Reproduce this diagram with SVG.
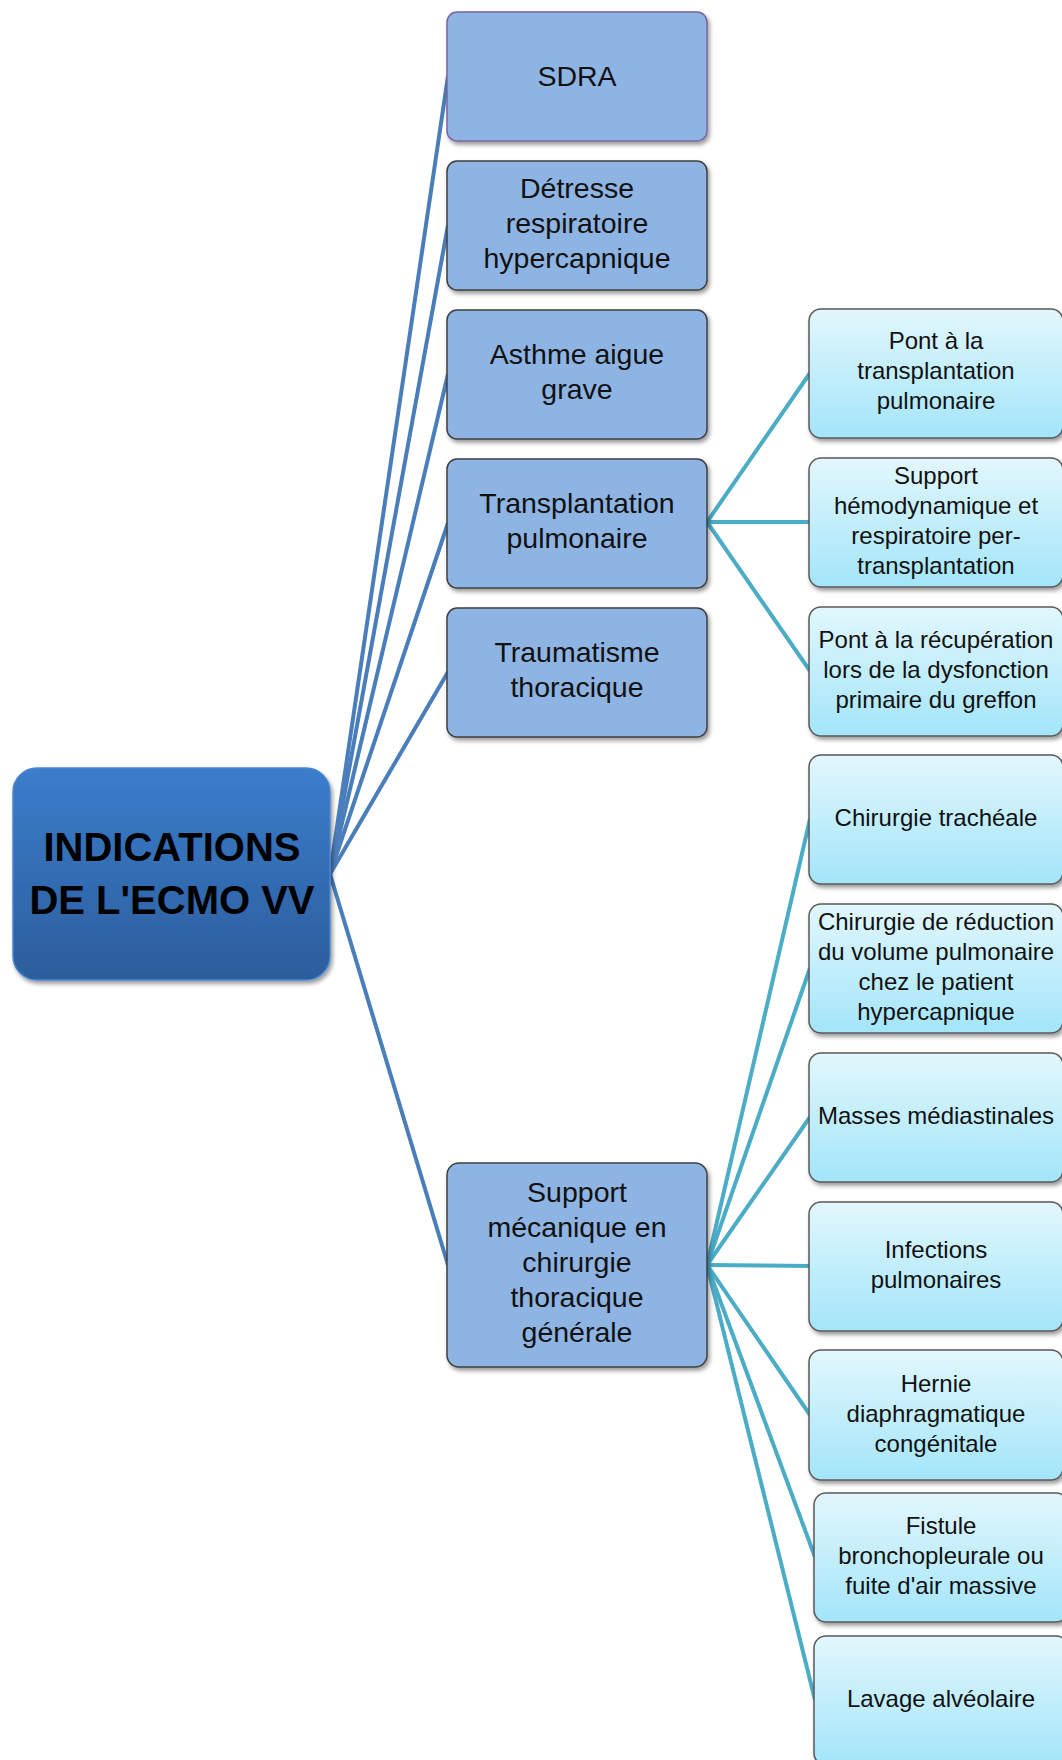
<svg xmlns="http://www.w3.org/2000/svg" width="1062" height="1760" viewBox="0 0 1062 1760">
<defs>
<style>
.l1 { fill: #8eb4e3; stroke: #3f3f3f; stroke-width: 1.5; }
.l2 { fill: url(#g2); stroke: #5a5a5a; stroke-width: 1.5; }
.t1 { font-family: "Liberation Sans", Arial, sans-serif; font-size: 28.5px; fill: #111; text-anchor: middle; }
.t2 { font-family: "Liberation Sans", Arial, sans-serif; font-size: 24px; fill: #111; text-anchor: middle; }
.t0 { font-family: "Liberation Sans", Arial, sans-serif; font-size: 40px; font-weight: bold; fill: #000; text-anchor: middle; }
.c1 { stroke: #4a7ebb; stroke-width: 4; fill: none; }
.c2 { stroke: #4bacc6; stroke-width: 4; fill: none; }
</style>
<linearGradient id="g2" x1="0" y1="0" x2="0" y2="1">
<stop offset="0" stop-color="#e2f7fd"/>
<stop offset="1" stop-color="#a3e5fa"/>
</linearGradient>
<linearGradient id="g0" x1="0" y1="0" x2="0" y2="1">
<stop offset="0" stop-color="#3b7dcc"/>
<stop offset="1" stop-color="#2c5d9c"/>
</linearGradient>
<filter id="sh" x="-10%" y="-10%" width="130%" height="130%">
<feDropShadow dx="2" dy="3" stdDeviation="2" flood-color="#000" flood-opacity="0.4"/>
</filter>
</defs>

<g id="connectors">
<line class="c1" x1="330" y1="874" x2="448" y2="76"/>
<line class="c1" x1="330" y1="874" x2="448" y2="225"/>
<line class="c1" x1="330" y1="874" x2="448" y2="374"/>
<line class="c1" x1="330" y1="874" x2="448" y2="523"/>
<line class="c1" x1="330" y1="874" x2="448" y2="672"/>
<line class="c1" x1="330" y1="874" x2="448" y2="1265"/>
<line class="c2" x1="707" y1="522" x2="810" y2="373"/>
<line class="c2" x1="707" y1="522" x2="810" y2="522"/>
<line class="c2" x1="707" y1="522" x2="810" y2="671"/>
<line class="c2" x1="707" y1="1265" x2="810" y2="819"/>
<line class="c2" x1="707" y1="1265" x2="810" y2="968"/>
<line class="c2" x1="707" y1="1265" x2="810" y2="1117"/>
<line class="c2" x1="707" y1="1265" x2="810" y2="1266"/>
<line class="c2" x1="707" y1="1265" x2="810" y2="1415"/>
<line class="c2" x1="707" y1="1265" x2="815" y2="1557"/>
<line class="c2" x1="707" y1="1265" x2="815" y2="1700"/>
</g>

<g id="root">
<rect x="13" y="768" width="317" height="212" rx="24" fill="url(#g0)" stroke="#4a86d0" stroke-width="1.5" filter="url(#sh)"/>
<text class="t0" x="172" y="861">INDICATIONS</text>
<text class="t0" x="172" y="914">DE L'ECMO VV</text>
</g>

<g id="sdra">
<rect class="l1" x="447" y="12" width="260" height="129" rx="10" style="stroke:#7b64a0" filter="url(#sh)"/>
<text class="t1" x="577" y="86">SDRA</text>
</g>
<g id="detresse">
<rect class="l1" x="447" y="161" width="260" height="129" rx="10" filter="url(#sh)"/>
<text class="t1" x="577" y="198">Détresse</text>
<text class="t1" x="577" y="233">respiratoire</text>
<text class="t1" x="577" y="268">hypercapnique</text>
</g>
<g id="asthme">
<rect class="l1" x="447" y="310" width="260" height="129" rx="10" filter="url(#sh)"/>
<text class="t1" x="577" y="364">Asthme aigue</text>
<text class="t1" x="577" y="399">grave</text>
</g>
<g id="transplantation">
<rect class="l1" x="447" y="459" width="260" height="129" rx="10" filter="url(#sh)"/>
<text class="t1" x="577" y="513">Transplantation</text>
<text class="t1" x="577" y="548">pulmonaire</text>
</g>
<g id="traumatisme">
<rect class="l1" x="447" y="608" width="260" height="129" rx="10" filter="url(#sh)"/>
<text class="t1" x="577" y="662">Traumatisme</text>
<text class="t1" x="577" y="697">thoracique</text>
</g>
<g id="support-chirurgie">
<rect class="l1" x="447" y="1163" width="260" height="204" rx="12" filter="url(#sh)"/>
<text class="t1" x="577" y="1202">Support</text>
<text class="t1" x="577" y="1237">mécanique en</text>
<text class="t1" x="577" y="1272">chirurgie</text>
<text class="t1" x="577" y="1307">thoracique</text>
<text class="t1" x="577" y="1342">générale</text>
</g>

<g id="pont-transplantation">
<rect class="l2" x="809" y="309" width="254" height="129" rx="12" filter="url(#sh)"/>
<text class="t2" x="936" y="349">Pont à la</text>
<text class="t2" x="936" y="379">transplantation</text>
<text class="t2" x="936" y="409">pulmonaire</text>
</g>
<g id="support-hemodynamique">
<rect class="l2" x="809" y="458" width="254" height="129" rx="12" filter="url(#sh)"/>
<text class="t2" x="936" y="484">Support</text>
<text class="t2" x="936" y="514">hémodynamique et</text>
<text class="t2" x="936" y="544">respiratoire per-</text>
<text class="t2" x="936" y="574">transplantation</text>
</g>
<g id="pont-recuperation">
<rect class="l2" x="809" y="607" width="254" height="129" rx="12" filter="url(#sh)"/>
<text class="t2" x="936" y="648">Pont à la récupération</text>
<text class="t2" x="936" y="678">lors de la dysfonction</text>
<text class="t2" x="936" y="708">primaire du greffon</text>
</g>
<g id="chirurgie-tracheale">
<rect class="l2" x="809" y="755" width="254" height="129" rx="12" filter="url(#sh)"/>
<text class="t2" x="936" y="826">Chirurgie trachéale</text>
</g>
<g id="chirurgie-reduction">
<rect class="l2" x="809" y="904" width="254" height="129" rx="12" filter="url(#sh)"/>
<text class="t2" x="936" y="930">Chirurgie de réduction</text>
<text class="t2" x="936" y="960">du volume pulmonaire</text>
<text class="t2" x="936" y="990">chez le patient</text>
<text class="t2" x="936" y="1020">hypercapnique</text>
</g>
<g id="masses">
<rect class="l2" x="809" y="1053" width="254" height="129" rx="12" filter="url(#sh)"/>
<text class="t2" x="936" y="1124">Masses médiastinales</text>
</g>
<g id="infections">
<rect class="l2" x="809" y="1202" width="254" height="129" rx="12" filter="url(#sh)"/>
<text class="t2" x="936" y="1258">Infections</text>
<text class="t2" x="936" y="1288">pulmonaires</text>
</g>
<g id="hernie">
<rect class="l2" x="809" y="1350" width="254" height="130" rx="12" filter="url(#sh)"/>
<text class="t2" x="936" y="1392">Hernie</text>
<text class="t2" x="936" y="1422">diaphragmatique</text>
<text class="t2" x="936" y="1452">congénitale</text>
</g>
<g id="fistule">
<rect class="l2" x="814" y="1493" width="254" height="129" rx="12" filter="url(#sh)"/>
<text class="t2" x="941" y="1534">Fistule</text>
<text class="t2" x="941" y="1564">bronchopleurale ou</text>
<text class="t2" x="941" y="1594">fuite d'air massive</text>
</g>
<g id="lavage">
<rect class="l2" x="814" y="1636" width="254" height="129" rx="12" filter="url(#sh)"/>
<text class="t2" x="941" y="1707">Lavage alvéolaire</text>
</g>
</svg>
